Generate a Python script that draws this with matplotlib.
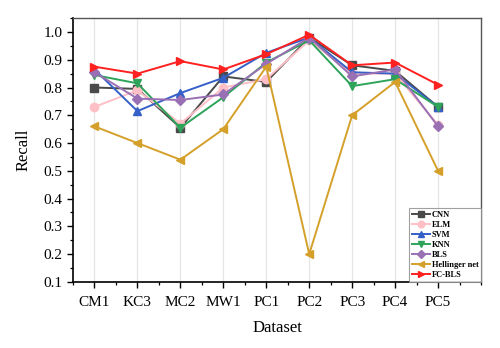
import matplotlib
matplotlib.use("Agg")
import matplotlib.pyplot as plt
from matplotlib.ticker import MultipleLocator
import numpy as np

plt.rcParams['font.family'] = ['Liberation Serif', 'DejaVu Serif']

datasets = ['CM1', 'KC3', 'MC2', 'MW1', 'PC1', 'PC2', 'PC3', 'PC4', 'PC5']

cnn = [0.80, 0.795, 0.655, 0.84, 0.82, 0.98, 0.88, 0.86, 0.73]
elm = [0.73, 0.79, 0.67, 0.80, 0.83, 0.97, 0.85, 0.85, 0.665]
svm = [0.865, 0.715, 0.78, 0.835, 0.925, 0.98, 0.855, 0.85, 0.73]
knn = [0.845, 0.815, 0.655, 0.765, 0.89, 0.97, 0.805, 0.83, 0.73]
bls = [0.855, 0.76, 0.755, 0.775, 0.885, 0.98, 0.84, 0.865, 0.66]
hellinger = [0.66, 0.60, 0.54, 0.65, 0.875, 0.20, 0.70, 0.82, 0.50]
fcbls = [0.875, 0.85, 0.895, 0.865, 0.92, 0.99, 0.88, 0.89, 0.81]

series = [
    ('CNN', cnn, '#4a4a4a', 's'),
    ('ELM', elm, '#ffbfc6', 'o'),
    ('SVM', svm, '#3560c8', '^'),
    ('KNN', knn, '#2ea35a', 'v'),
    ('BLS', bls, '#9a70b4', 'D'),
    ('Hellinger net', hellinger, '#d4a02a', '<'),
    ('FC-BLS', fcbls, '#ff2020', '>'),
]

fig = plt.figure(figsize=(5, 3.48), dpi=100)
ax = fig.add_axes([0.146, 0.190, 0.816, 0.758])

x = np.arange(1, len(datasets) + 1)
for name, vals, col, mk in series:
    ms = 5 if mk == 'D' else 6
    ax.plot(x, vals, color=col, marker=mk, markersize=ms, linewidth=1.4, label=name)

ax.set_xlim(0.5, 10)
ax.set_ylim(0.1, 1.05)
ax.set_xticks(x)
ax.set_xticklabels(datasets)
ax.xaxis.set_minor_locator(MultipleLocator(0.5))
ax.yaxis.set_major_locator(MultipleLocator(0.1))
ax.yaxis.set_minor_locator(MultipleLocator(0.05))
ax.grid(axis='x', color='#e6e6e6', linewidth=0.9)
ax.set_axisbelow(True)
ax.tick_params(which='major', length=4, width=1.0, labelsize=11)
ax.tick_params(axis='x', which='major', pad=6)
ax.tick_params(which='minor', length=2.5, width=0.9)
for s in ['left', 'bottom']:
    ax.spines[s].set_linewidth(1.2)
for s in ['top', 'right']:
    ax.spines[s].set_color('#555555')
    ax.spines[s].set_linewidth(1.0)

ax.set_xlabel('Dataset', fontsize=12, labelpad=8)
ax.set_ylabel('Recall', fontsize=12, labelpad=9)

leg = ax.legend(loc='lower right', fontsize=6, frameon=True, fancybox=False,
                borderpad=0.3, labelspacing=0.25, handlelength=2.2,
                handletextpad=0.2, borderaxespad=0.0, markerscale=0.8,
                prop={'weight': 'bold', 'size': 6})
leg.get_frame().set_edgecolor('#888888')
leg.get_frame().set_linewidth(0.8)

fig.savefig('out.png', dpi=100)
